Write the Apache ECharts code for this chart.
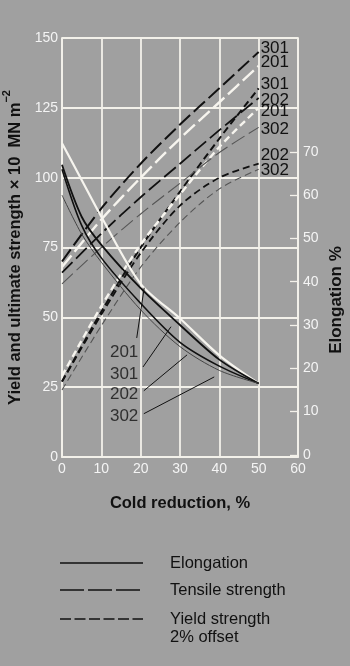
<!DOCTYPE html>
<html>
<head>
<meta charset="utf-8">
<script src="https://cdn.jsdelivr.net/npm/echarts@6/dist/echarts.min.js"></script>
<style>
html,body{margin:0;padding:0;background:#a0a0a0;}
#c{width:350px;height:666px;}
</style>
</head>
<body>
<div id="c"></div>
<script>
// ---- data ----
const reduction = [0, 10, 20, 30, 40, 50];          // cold reduction, %
const elongX = [0, 5, 10, 20, 30, 40, 50];

// Tensile strength (x10 MN m^-2)
const ts301 = [70, 89, 105, 119, 132, 145];
const ts201 = [68, 85, 100, 114, 127, 140];
const ts202 = [66, 80, 93, 105, 117, 128.5];
const ts302 = [62, 75, 87, 98, 109, 118];

// Yield strength (x10 MN m^-2)
const ys301 = [27, 52, 75, 95, 114, 132];
const ys201 = [29, 54, 76, 94, 111, 125];
const ys202 = [27, 51, 73, 90, 100, 105];
const ys302 = [24, 47, 68, 84, 96, 103];

// Elongation (%)
const el201 = [72, 63.5, 55, 39.5, 31.5, 23, 16.5];
const el301 = [67, 55, 48.5, 38.5, 30, 22, 16.5];
const el202 = [66, 53, 45.5, 35, 26, 20.5, 16.5];
const el302 = [60, 51, 44.5, 33.5, 25, 19.5, 16.5];

// annotation labels for elongation curves (x %, elongation %)
const elongCodes = ['201', '301', '202', '302'];
const elongLabelPos = [[15.8, 23.8], [15.8, 18.7], [15.8, 13.9], [15.8, 8.8]];
const arrowStart = [[19.0, 27], [20.6, 20.3], [20.8, 14.8], [20.8, 9.5]];
const arrowTip = [[20.9, 38.6], [27.7, 29.6], [31.8, 23.1], [38.7, 18.0]];

const rightTicks = [0, 10, 20, 30, 40, 50, 60, 70];

// ---- chart ----
const FONT = 'Liberation Sans, Arial, sans-serif';
const GRIDC = '#f3f1ea';
const LBLC = '#f4f4f4';
const pairs = (xs, ys) => xs.map((x, i) => [x, ys[i]]);

const TS_DASH = [15, 5];
const YS_DASH = [7, 4];

function strengthSeries(name, code, vals, color, width, dash, dy) {
  return {
    name: name, type: 'line', yAxisIndex: 0, xAxisIndex: 0,
    data: pairs(reduction, vals), smooth: 0.3,
    showSymbol: false, symbol: 'none',
    lineStyle: { color: color, width: width, type: dash },
    endLabel: { show: true, formatter: code, color: '#111', fontSize: 17,
      fontFamily: FONT, distance: 2, offset: [0, dy] },
    emphasis: { disabled: true }, silent: true, z: 3
  };
}
function elongSeries(name, vals, color, width) {
  return {
    name: name, type: 'line', yAxisIndex: 1,
    data: pairs(elongX, vals), smooth: 0.3,
    showSymbol: false, symbol: 'none',
    lineStyle: { color: color, width: width, type: 'solid' },
    emphasis: { disabled: true }, silent: true, z: 3
  };
}

const chart = echarts.init(document.getElementById('c'), null, { renderer: 'canvas' });
const option = {
  backgroundColor: '#a0a0a0',
  animation: false,
  textStyle: { fontFamily: FONT },
  grid: { left: 62, right: 52, top: 38, bottom: 209, containLabel: false, outerBoundsMode: 'none' },
  xAxis: {
    type: 'value', min: 0, max: 60, interval: 10,
    name: 'Cold reduction, %', nameLocation: 'middle', nameGap: 38,
    nameTextStyle: { color: '#111', fontSize: 16.5, fontWeight: 'bold', fontFamily: FONT },
    axisLine: { show: true, lineStyle: { color: GRIDC, width: 1.8 } },
    axisTick: { show: false },
    axisLabel: { color: LBLC, fontSize: 14, margin: 5, fontFamily: FONT },
    splitLine: { show: true, lineStyle: { color: GRIDC, width: 1.8 } }
  },
  yAxis: [{
    type: 'value', min: 0, max: 150, interval: 25, position: 'left',
    name: '{a|Yield and ultimate strength × 10  MN m}{b|−2}',
    nameLocation: 'middle', nameGap: 38, nameRotate: 90,
    nameTextStyle: { color: '#111', fontFamily: FONT,
      rich: {
        a: { fontSize: 16.5, fontWeight: 'bold', color: '#111', lineHeight: 22, verticalAlign: 'bottom', fontFamily: FONT },
        b: { fontSize: 11, fontWeight: 'bold', color: '#111', lineHeight: 11, verticalAlign: 'top', fontFamily: FONT }
      } },
    axisLine: { show: true, lineStyle: { color: GRIDC, width: 1.8 } },
    axisTick: { show: false },
    axisLabel: { color: LBLC, fontSize: 14, margin: 4, fontFamily: FONT },
    splitLine: { show: true, lineStyle: { color: GRIDC, width: 1.8 } }
  }, {
    type: 'value', min: -0.5, max: 96.3, position: 'right',
    axisLine: { show: true, lineStyle: { color: GRIDC, width: 1.8 } },
    axisTick: { show: true, inside: true, length: 8, customValues: rightTicks,
      lineStyle: { color: GRIDC, width: 1.3 } },
    axisLabel: { color: LBLC, fontSize: 14, margin: 5, fontFamily: FONT, customValues: rightTicks },
    splitLine: { show: false }
  }],
  series: [
    strengthSeries('Tensile 301', '301', ts301, '#111', 2, TS_DASH, -4),
    strengthSeries('Tensile 201', '201', ts201, '#f6f4ee', 2.4, TS_DASH, -4),
    strengthSeries('Yield 301', '301', ys301, '#111', 2, YS_DASH, -4),
    strengthSeries('Tensile 202', '202', ts202, '#111', 1.8, TS_DASH, 2),
    strengthSeries('Yield 201', '201', ys201, '#f6f4ee', 2.4, YS_DASH, 3),
    strengthSeries('Tensile 302', '302', ts302, '#555', 1.1, TS_DASH, 2),
    strengthSeries('Yield 202', '202', ys202, '#111', 1.8, YS_DASH, -8),
    strengthSeries('Yield 302', '302', ys302, '#555', 1.1, YS_DASH, 1),
    elongSeries('Elongation 201', el201, '#f6f4ee', 2.2),
    elongSeries('Elongation 301', el301, '#111', 1.8),
    elongSeries('Elongation 202', el202, '#111', 1.6),
    elongSeries('Elongation 302', el302, '#444', 1.0),
    {
      name: 'elongation labels', type: 'scatter', yAxisIndex: 1,
      data: elongLabelPos.map((p, i) => ({ name: elongCodes[i], value: p })),
      symbolSize: 1, itemStyle: { color: 'rgba(0,0,0,0)' },
      label: { show: true, position: 'inside', formatter: '{b}', color: '#111',
        fontSize: 17, fontFamily: FONT },
      silent: true, z: 4,
      markLine: {
        silent: true, animation: false,
        symbol: ['none', 'arrow'], symbolSize: [0, 8],
        label: { show: false },
        lineStyle: { color: '#111', width: 1, type: 'solid' },
        emphasis: { disabled: true },
        data: arrowStart.map((s, i) => [{ coord: s }, { coord: arrowTip[i] }])
      }
    }
  ],
  graphic: [
    { type: 'text', x: 336, y: 300, rotation: Math.PI / 2,
      style: { text: 'Elongation %', fill: '#111', font: 'bold 17px ' + FONT,
        textAlign: 'center', textVerticalAlign: 'middle' } },
    // legend
    { type: 'line', shape: { x1: 60, y1: 563, x2: 143, y2: 563 },
      style: { stroke: '#111', lineWidth: 1.4 } },
    { type: 'line', shape: { x1: 60, y1: 590, x2: 143, y2: 590 },
      style: { stroke: '#111', lineWidth: 1.3, lineDash: [24, 4] } },
    { type: 'line', shape: { x1: 60, y1: 619, x2: 143, y2: 619 },
      style: { stroke: '#111', lineWidth: 1.3, lineDash: [11, 3.5] } },
    { type: 'text', x: 170, y: 563,
      style: { text: 'Elongation', fill: '#111', font: '16.5px ' + FONT, textVerticalAlign: 'middle' } },
    { type: 'text', x: 170, y: 590,
      style: { text: 'Tensile strength', fill: '#111', font: '16.5px ' + FONT, textVerticalAlign: 'middle' } },
    { type: 'text', x: 170, y: 619,
      style: { text: 'Yield strength', fill: '#111', font: '16.5px ' + FONT, textVerticalAlign: 'middle' } },
    { type: 'text', x: 170, y: 637,
      style: { text: '2% offset', fill: '#111', font: '16.5px ' + FONT, textVerticalAlign: 'middle' } }
  ]
};
chart.setOption(option);
</script>
</body>
</html>
